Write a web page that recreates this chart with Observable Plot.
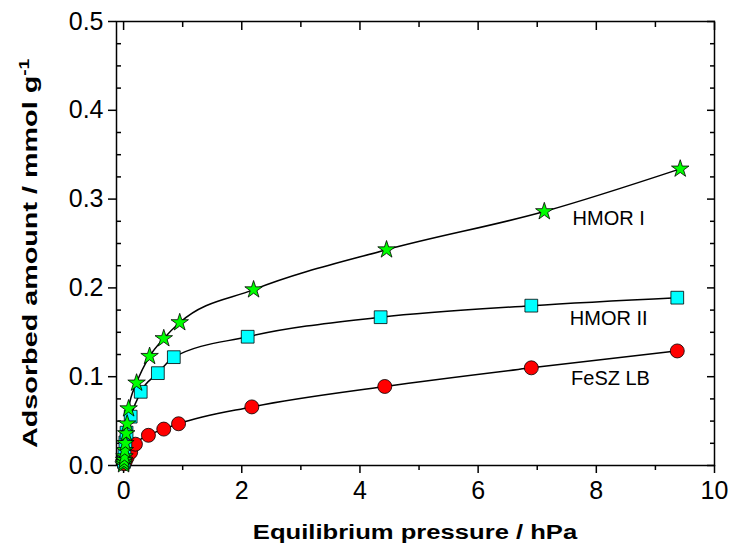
<!DOCTYPE html>
<html><head><meta charset="utf-8">
<script src="https://cdn.jsdelivr.net/npm/d3@7"></script>
<script src="https://cdn.jsdelivr.net/npm/@observablehq/plot@0.6"></script>
<style>body{margin:0;background:#fff;font-family:"Liberation Sans",Arial,sans-serif}</style>
</head><body><div id="chart"></div>
<script>
// HMOR I (stars)
const pressureI = [0.0, 0.005, 0.01, 0.015, 0.02, 0.03, 0.045, 0.06, 0.085, 0.22, 0.44, 0.68, 0.95, 2.2, 4.45, 7.12, 9.42];
const amountI   = [0.001, 0.003, 0.006, 0.010, 0.017, 0.025, 0.036, 0.047, 0.064, 0.093, 0.123, 0.143, 0.161, 0.198, 0.243, 0.286, 0.334];
// HMOR II (squares)
const pressureII = [0.005, 0.015, 0.03, 0.05, 0.12, 0.29, 0.58, 0.85, 2.1, 4.35, 6.9, 9.37];
const amountII   = [0.004, 0.012, 0.026, 0.037, 0.055, 0.083, 0.104, 0.122, 0.145, 0.167, 0.180, 0.189];
// FeSZ LB (circles)
const pressureF = [0.01, 0.03, 0.06, 0.12, 0.2, 0.42, 0.68, 0.93, 2.17, 4.42, 6.9, 9.37];
const amountF   = [0.002, 0.005, 0.009, 0.015, 0.024, 0.034, 0.041, 0.047, 0.066, 0.089, 0.110, 0.129];

const seriesNames = ["HMOR I", "HMOR II", "FeSZ LB"];
const labelX = [8.21, 8.21, 8.24];
const labelY = [0.278, 0.1655, 0.098];

const xTicks = [0, 2, 4, 6, 8, 10];
const xMinor = [1, 3, 5, 7, 9];
const yTicks = [0.0, 0.1, 0.2, 0.3, 0.4, 0.5];
const yMinor = d3.range(0, 0.5001, 0.025).filter(v => Math.abs(v*10 - Math.round(v*10)) > 1e-6);

const toRows = (xs, ys) => xs.map((x, i) => ({x, y: ys[i]}));
const dI = toRows(pressureI, amountI);
const dII = toRows(pressureII, amountII);
const dF = toRows(pressureF, amountF);
const labels = seriesNames.map((name, i) => ({name, x: labelX[i], y: labelY[i]}));

const fs = 25;
const plot = Plot.plot({
  width: 731, height: 553,
  marginLeft: 116, marginRight: 17, marginTop: 21, marginBottom: 88,
  style: {fontFamily: "Liberation Sans, Arial, sans-serif", color: "#000", background: "#fff"},
  x: {domain: [-0.12, 10]},
  y: {domain: [0, 0.5]},
  marks: [
    Plot.frame({stroke: "#000", strokeWidth: 1.5}),
    Plot.axisX({ticks: xTicks, tickSize: 8, tickPadding: 8, label: null, tickFormat: d => d, strokeWidth: 1.5}),
    Plot.axisX({ticks: xMinor, tickSize: 5, text: null, label: null, strokeWidth: 1.5}),
    Plot.axisX({anchor: "top", ticks: xTicks, tickSize: -8, text: null, label: null, strokeWidth: 1.5}),
    Plot.axisX({anchor: "top", ticks: xMinor, tickSize: -5, text: null, label: null, strokeWidth: 1.5}),
    Plot.axisY({ticks: yTicks, tickSize: 8, tickPadding: 5, label: null, tickFormat: d3.format(".1f"), strokeWidth: 1.5}),
    Plot.axisY({ticks: yMinor, tickSize: -5, text: null, label: null, strokeWidth: 1.5}),
    Plot.axisY({anchor: "right", ticks: yTicks, tickSize: -8, text: null, label: null, strokeWidth: 1.5}),
    Plot.axisY({anchor: "right", ticks: yMinor, tickSize: -5, text: null, label: null, strokeWidth: 1.5}),
    Plot.line(dF, {x: "x", y: "y", curve: "monotone-x", stroke: "#000", strokeWidth: 1.5}),
    Plot.line(dII, {x: "x", y: "y", curve: "monotone-x", stroke: "#000", strokeWidth: 1.5}),
    Plot.line(dI, {x: "x", y: "y", curve: "monotone-x", stroke: "#000", strokeWidth: 1.5}),
    Plot.dot(dF, {x: "x", y: "y", r: 7, symbol: "circle", fill: "#ff0000", stroke: "#000", strokeWidth: 0.8}),
    Plot.dot(dII, {x: "x", y: "y", r: 7.2, symbol: "square", fill: "#00ffff", stroke: "#000", strokeWidth: 0.8}),
    Plot.dot(dI, {x: "x", y: "y", r: 5.5, symbol: "star", fill: "#00ff00", stroke: "#000", strokeWidth: 0.8}),
    Plot.text(labels, {x: "x", y: "y", text: "name", fontSize: 20, fill: "#000"})
  ]
});
const svg = d3.select(plot);
svg.selectAll('g[aria-label$="tick label"] text').style("font-size", fs + "px");
// axis titles
svg.append("text")
  .attr("transform", "translate(" + ((253 + 577) / 2) + ",539) scale(1.22,1)")
  .attr("text-anchor", "middle")
  .style("font-size", "21px").attr("font-weight", "bold").attr("fill", "#000")
  .text("Equilibrium pressure / hPa");
const yl = svg.append("text")
  .attr("transform", "translate(37,448) rotate(-90) scale(1.37,1)")
  .attr("text-anchor", "start")
  .style("font-size", "21px").attr("font-weight", "bold").attr("fill", "#000");
yl.append("tspan").text("Adsorbed amount / mmol g");
yl.append("tspan").attr("dy", -8).style("font-size", "14px").text("-1");
document.getElementById("chart").appendChild(plot);
</script></body></html>
